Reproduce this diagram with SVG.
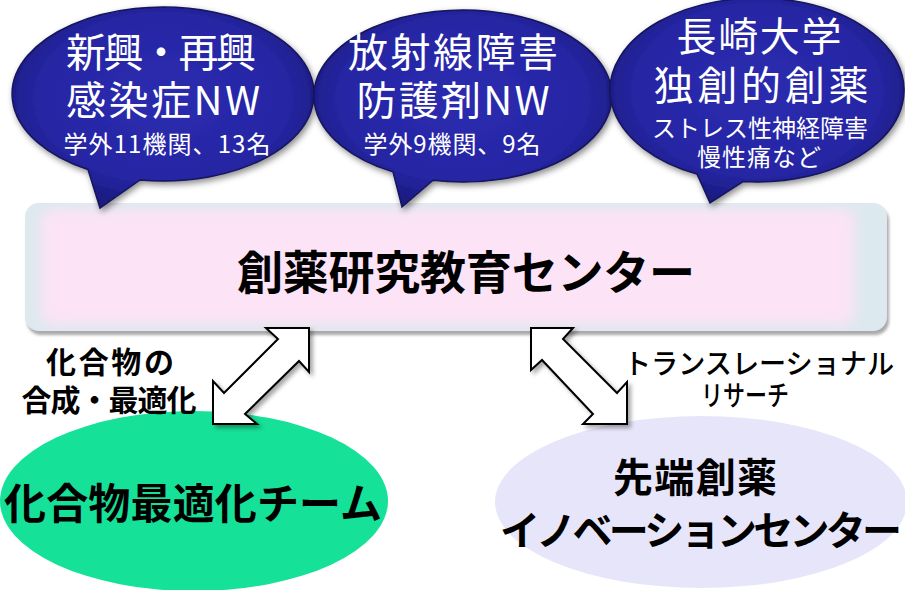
<svg xmlns="http://www.w3.org/2000/svg" width="905" height="590" viewBox="0 0 905 590">
<defs>
<style>
text{font-family:"Noto Sans CJK JP","Noto Sans",sans-serif;text-anchor:middle}
.bt{fill:#ffffff;font-size:40px}
.bs{fill:#ffffff;font-size:24px}
.bubble{fill:url(#bg);stroke:#15155a;stroke-width:1.5;filter:url(#ds)}
.blk{fill:#000000;font-weight:bold}
.arrow{fill:#ffffff;stroke:#000000;stroke-width:2;stroke-linejoin:miter;filter:url(#ads)}
</style>
<radialGradient id="bg" cx="50%" cy="45%" r="55%">
<stop offset="0" stop-color="#2b2bb0"/>
<stop offset="0.75" stop-color="#2626a4"/>
<stop offset="1" stop-color="#1a1a80"/>
</radialGradient>
<filter id="ds" x="-10%" y="-10%" width="125%" height="130%">
<feDropShadow dx="2" dy="3" stdDeviation="3" flood-color="#000" flood-opacity="0.45"/>
</filter>
<filter id="ads" x="-20%" y="-20%" width="150%" height="150%">
<feDropShadow dx="3" dy="3" stdDeviation="2" flood-color="#000" flood-opacity="0.35"/>
</filter>
<filter id="soft" x="-10%" y="-20%" width="120%" height="140%">
<feGaussianBlur stdDeviation="7"/>
</filter>
<filter id="sh" x="-5%" y="-10%" width="110%" height="130%">
<feGaussianBlur stdDeviation="1.5"/>
</filter>
<clipPath id="rc"><rect x="25" y="203" width="862" height="128" rx="14"/></clipPath>
</defs>
<rect width="905" height="590" fill="#ffffff"/>

<g id="center-rect">
<rect x="27" y="207" width="862" height="128" rx="14" fill="#a9a9a9" filter="url(#sh)"/>
<rect x="25" y="203" width="862" height="128" rx="14" fill="#dce9ee"/>
<g clip-path="url(#rc)">
<rect x="40" y="209" width="815" height="116" rx="10" fill="#fce3f6" filter="url(#soft)"/>
</g>
<text class="blk" x="466" y="289" font-size="46" textLength="458">創薬研究教育センター</text>
</g>

<g id="bubble-infection">
<path class="bubble" d="M 140 180 A 151 87 0 1 0 88 169.5 L 100 208 Z"/>
<text class="bt" x="161" y="67" textLength="190">新興・再興</text>
<text class="bt" x="163" y="115" textLength="194">感染症NW</text>
<text class="bs" x="167" y="153" textLength="207">学外11機関、13名</text>
</g>

<g id="bubble-radiation">
<path class="bubble" d="M 433 180.2 A 149 86 0 1 0 393 171.9 L 402 207 Z"/>
<text class="bt" x="453" y="67" textLength="210">放射線障害</text>
<text class="bt" x="453" y="115" textLength="193">防護剤NW</text>
<text class="bs" x="452" y="153" textLength="177">学外9機関、9名</text>
</g>

<g id="bubble-nagasaki">
<path class="bubble" d="M 743 181.6 A 147 92 0 1 0 697 174 L 710 203 Z"/>
<text class="bt" x="759" y="51" textLength="165">長崎大学</text>
<text class="bt" x="761" y="100" textLength="215">独創的創薬</text>
<text class="bs" x="760" y="137" textLength="216">ストレス性神経障害</text>
<text class="bs" x="759" y="166" textLength="124">慢性痛など</text>
</g>

<g id="team-compound">
<ellipse cx="194" cy="501" rx="194" ry="90" fill="#16e198"/>
<text class="blk" x="193" y="519" font-size="42" textLength="378">化合物最適化チーム</text>
</g>

<g id="innovation-center">
<ellipse cx="701" cy="502" rx="206" ry="86" fill="#e7e5fa"/>
<text class="blk" x="695" y="492" font-size="40" textLength="164">先端創薬</text>
<text class="blk" x="701" y="545" font-size="40" textLength="402">イノベーションセンター</text>
</g>

<g id="label-synthesis">
<text class="blk" x="110" y="373" font-size="30" textLength="128">化合物の</text>
<text class="blk" x="109" y="411" font-size="30" textLength="175">合成・最適化</text>
</g>

<g id="label-translational">
<text x="759" y="374" font-size="28" font-weight="500" fill="#000" textLength="270" lengthAdjust="spacingAndGlyphs">トランスレーショナル</text>
<text x="745" y="406" font-size="28" font-weight="500" fill="#000" textLength="88" lengthAdjust="spacingAndGlyphs">リサーチ</text>
</g>

<g id="connectors">
<polygon class="arrow" points="309,328 309,372 299,361 245,414 257,424 213,424 213,381 224,393 278,339 266,328"/>
<polygon class="arrow" points="531,328 573,328 563,339 617,393 627,382 627,424 583,424 593,414 542,360 531,370"/>
</g>
</svg>
